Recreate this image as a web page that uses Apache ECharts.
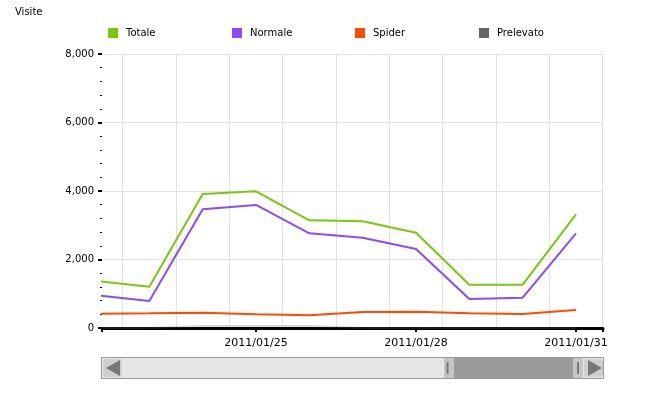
<!DOCTYPE html>
<html><head><meta charset="utf-8">
<script src="https://cdn.jsdelivr.net/npm/echarts@6/dist/echarts.min.js"></script>
<style>html,body{margin:0;padding:0;background:#fff}#c{width:662px;height:396px}</style>
</head><body><div id="c"></div>
<script>
// ---- data ----
const dates = ['2011/01/22','2011/01/23','2011/01/24','2011/01/25','2011/01/26','2011/01/27','2011/01/28','2011/01/29','2011/01/30','2011/01/31'];
const totale    = [1375, 1206, 3913, 3991, 3144, 3115, 2783, 1265, 1265, 3319];
const normale   = [957, 788, 3465, 3592, 2764, 2638, 2307, 847, 886, 2764];
const spider    = [418, 429, 447, 400, 371, 467, 476, 429, 409, 526];
const prelevato = [0, 0, 60, 60, 60, 0, 0, 0, 0, 0];
const seriesNames = ['Totale', 'Normale', 'Spider', 'Prelevato'];
const xTickLabels = ['2011/01/25', '2011/01/28', '2011/01/31'];
const yTickValues = [0, 2000, 4000, 6000, 8000];

// ---- helpers ----
const DAY = 86400000;
function toDay(s) { const p = s.split('/').map(Number); return Date.UTC(p[0], p[1] - 1, p[2]) / DAY; }
const d0 = toDay(dates[0]);
const xMin = d0 + 0.1125, xMax = d0 + 9.506;
const dMajor = toDay(xTickLabels[0]);
const pairs = arr => dates.map((d, i) => [toDay(d), arr[i]]);
const FONT = 'DejaVu Sans, Verdana, sans-serif';
const colors = ['#7ac70c', '#8a4bff', '#ff4a00', '#666666'];
const values = [totale, normale, spider, prelevato];
const legendLeft = [108, 232, 355, 479];

const chart = echarts.init(document.getElementById('c'), null, { renderer: 'canvas' });
chart.setOption({
  animation: false,
  backgroundColor: '#fff',
  color: colors,
  title: { text: 'Visite', left: 15, top: 7, padding: 0,
    textStyle: { fontFamily: FONT, fontSize: 10, fontWeight: 'normal', color: '#000' } },
  legend: seriesNames.map((n, i) => ({
    left: legendLeft[i], top: 28, padding: 0, itemGap: 10, itemWidth: 10, itemHeight: 10,
    icon: 'rect', data: [n], selectedMode: false,
    textStyle: { fontFamily: FONT, fontSize: 10, color: '#000', padding: [0, 0, 0, 3] }
  })),
  grid: { left: 102, right: 59, top: 54, bottom: 68 },
  xAxis: [
    { type: 'value', min: xMin, max: xMax, splitNumber: 10, position: 'bottom',
      axisLine: { show: true, onZero: false, lineStyle: { color: '#000', width: 3 } },
      axisTick: { show: true, length: 2, lineStyle: { color: '#000', width: 1.5 } },
      axisLabel: { show: false },
      splitLine: { show: false } },
    { type: 'value', min: xMin - 0.5, max: xMax - 0.5, splitNumber: 10, position: 'bottom',
      axisLine: { show: false, onZero: false }, axisTick: { show: false }, axisLabel: { show: false },
      splitLine: { show: true, showMinLine: false, showMaxLine: false, lineStyle: { color: '#e2e2e2', width: 1 } } },
    { type: 'value', min: xMin - dMajor, max: xMax - dMajor, splitNumber: 3, position: 'bottom',
      axisLine: { show: false, onZero: false },
      axisTick: { show: true, length: 4, lineStyle: { color: '#000', width: 2 } },
      axisLabel: { show: true, margin: 10, fontFamily: FONT, fontSize: 11, color: '#000',
        formatter: v => (Math.abs(v - Math.round(v)) < 1e-6 && Math.round(v) % 3 === 0 && xTickLabels[Math.round(v) / 3]) || '' },
      splitLine: { show: false } }
  ],
  yAxis: {
    type: 'value', min: yTickValues[0], max: yTickValues[yTickValues.length - 1],
    interval: yTickValues[1] - yTickValues[0],
    axisLine: { show: false, onZero: false },
    axisTick: { show: true, length: 4, lineStyle: { color: '#000', width: 2 } },
    minorTick: { show: true, splitNumber: 5, length: 2, lineStyle: { color: '#000', width: 1 } },
    axisLabel: { margin: 8, fontFamily: FONT, fontSize: 10, color: '#000',
      formatter: v => v.toLocaleString('en-US') },
    splitLine: { show: true, lineStyle: { color: '#e2e2e2', width: 1 } }
  },
  series: seriesNames.map((n, i) => ({
    name: n, type: 'line', xAxisIndex: 0, data: pairs(values[i]),
    showSymbol: false, symbol: 'none', clip: true,
    lineStyle: { width: 2, color: colors[i], opacity: i === 3 ? 0.25 : 1 },
    itemStyle: { color: colors[i] },
    z: 10 - i
  })),
  graphic: [
    { type: 'rect', shape: { x: 101.5, y: 357.5, width: 502, height: 21 }, style: { fill: '#e6e6e6', stroke: '#9a9a9a', lineWidth: 1 } },
    { type: 'rect', shape: { x: 103, y: 359, width: 19, height: 18, r: 3 }, style: { fill: '#cfcfcf' } },
    { type: 'polygon', shape: { points: [[106, 368], [120, 360], [120, 376]] }, style: { fill: '#777' } },
    { type: 'rect', shape: { x: 444, y: 358, width: 139, height: 20 }, style: { fill: '#9b9b9b' } },
    { type: 'rect', shape: { x: 444, y: 358, width: 10, height: 20 }, style: { fill: '#c4c4c4' } },
    { type: 'rect', shape: { x: 573, y: 358, width: 10, height: 20 }, style: { fill: '#c4c4c4' } },
    { type: 'rect', shape: { x: 446.5, y: 362, width: 2, height: 12 }, style: { fill: '#777' } },
    { type: 'rect', shape: { x: 577, y: 362, width: 2, height: 12 }, style: { fill: '#777' } },
    { type: 'rect', shape: { x: 584, y: 359, width: 19, height: 18, r: 3 }, style: { fill: '#cfcfcf' } },
    { type: 'polygon', shape: { points: [[588, 360], [602, 368], [588, 376]] }, style: { fill: '#777' } }
  ]
});
</script></body></html>
